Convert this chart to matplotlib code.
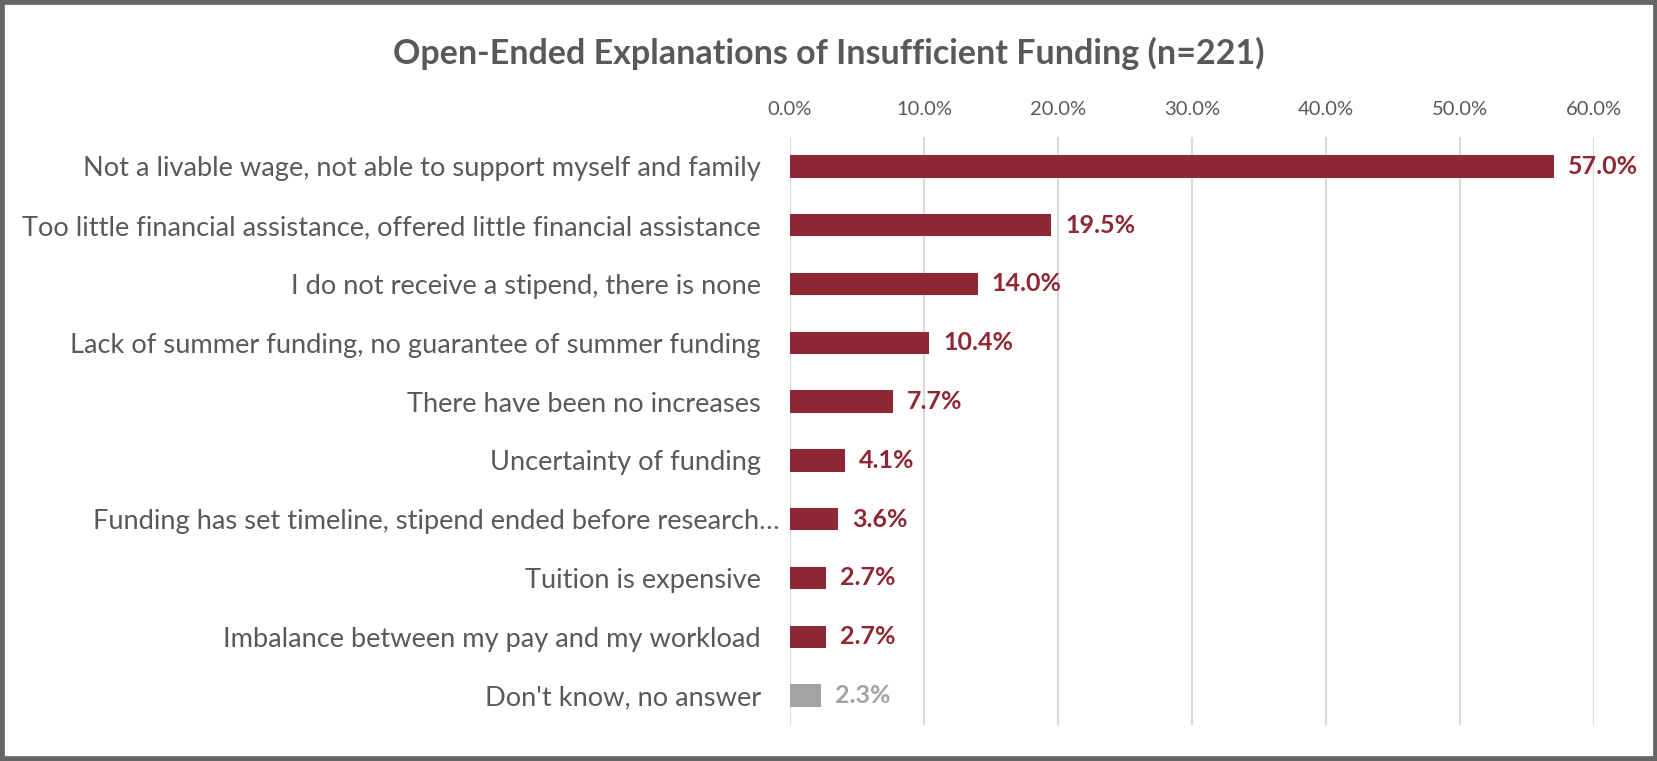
import matplotlib.pyplot as plt
from matplotlib.patches import Rectangle
from matplotlib.ticker import FuncFormatter
from matplotlib.transforms import ScaledTranslation

plt.rcParams["font.family"] = ["Lato", "DejaVu Sans"]

categories = [
    "Not a livable wage, not able to support myself and family",
    "Too little financial assistance, offered little financial assistance",
    "I do not receive a stipend, there is none",
    "Lack of summer funding, no guarantee of summer funding",
    "There have been no increases",
    "Uncertainty of funding",
    "Funding has set timeline, stipend ended before research\u2026",
    "Tuition is expensive",
    "Imbalance between my pay and my workload",
    "Don't know, no answer",
]
percents = [57.0, 19.5, 14.0, 10.4, 7.7, 4.1, 3.6, 2.7, 2.7, 2.3]
ticks = [0, 10, 20, 30, 40, 50, 60]

RED = "#8E2834"
GRAY = "#A3A3A3"
TEXT = "#595959"

colors = [RED] * (len(percents) - 1) + [GRAY]


def main():
    fig = plt.figure(figsize=(16.58, 7.61), dpi=100)
    ax = fig.add_axes([0.4765, 0.0473, 0.4849, 0.7727])

    ypos = list(range(len(categories)))
    ax.barh(ypos, percents, height=0.38, color=colors, zorder=3)

    for y, v, c in zip(ypos, percents, colors):
        ax.annotate(f"{v:.1f}%", (v, y), xytext=(10, 0), textcoords="offset points",
                    va="center", ha="left", fontsize=18, fontweight="bold", color=c)

    ax.set_xlim(0, 60)
    ax.set_ylim(len(categories) - 0.5, -0.5)
    ax.set_xticks(ticks)
    ax.xaxis.set_major_formatter(FuncFormatter(lambda v, p: f"{v:.1f}%"))
    ax.xaxis.tick_top()
    ax.tick_params(axis="x", length=0, pad=14, labelsize=14.5, labelcolor=TEXT)
    ax.set_yticks(ypos)
    ax.set_yticklabels(categories)
    ax.tick_params(axis="y", length=0, pad=21, labelsize=19.6, labelcolor=TEXT)

    # the clipped label runs a little past the others
    lbl = ax.get_yticklabels()[6]
    lbl.set_transform(lbl.get_transform() + ScaledTranslation(0.19, 0, fig.dpi_scale_trans))

    ax.grid(axis="x", color="#D9D9D9", linewidth=1.5, zorder=0)
    for s in ax.spines.values():
        s.set_visible(False)

    fig.text(0.5, 0.93, "Open-Ended Explanations of Insufficient Funding (n=221)",
             ha="center", va="center", fontsize=24.5, fontweight="bold", color=TEXT)

    fig.patches.append(Rectangle((0, 0), 1, 1, transform=fig.transFigure, fill=False,
                                 edgecolor="#666666", linewidth=7, zorder=10))

    fig.savefig("out.png", dpi=100)


if __name__ == "__main__":
    main()
